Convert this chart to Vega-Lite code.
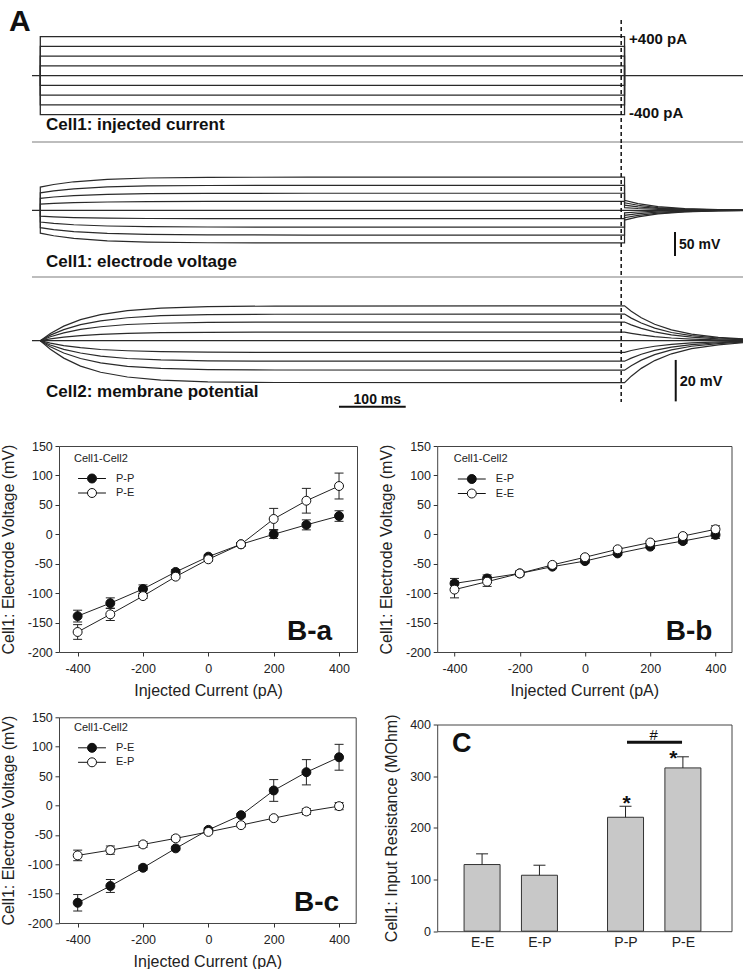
{
"$schema": "https://vega.github.io/schema/vega-lite/v6.json",
"padding": 0,
"background": "white",
"spacing": 0,
"resolve": {"scale": {"fill": "independent"}, "legend": {"fill": "independent"}},
"config": {
  "font": "Liberation Sans",
  "view": {"stroke": null},
  "axis": {"domain": false, "grid": false, "tickSize": 4, "tickColor": "#333", "tickWidth": 1, "labelFontSize": 12.5, "labelColor": "#222", "titleFontSize": 16, "titleFontWeight": "normal", "titleColor": "#222", "labelExpr": "'' + datum.value", "labelOverlap": false},
  "axisX": {"labelPadding": 6, "titlePadding": 7.5},
  "axisY": {"labelPadding": 2.7, "titlePadding": 10.5}
},
"datasets": {
  "cur": [
    {"I":400,"t":0,"v":0},{"I":400,"t":0,"v":400},{"I":400,"t":872,"v":400},{"I":400,"t":872,"v":0},
    {"I":300,"t":0,"v":0},{"I":300,"t":0,"v":300},{"I":300,"t":872,"v":300},{"I":300,"t":872,"v":0},
    {"I":200,"t":0,"v":0},{"I":200,"t":0,"v":200},{"I":200,"t":872,"v":200},{"I":200,"t":872,"v":0},
    {"I":100,"t":0,"v":0},{"I":100,"t":0,"v":100},{"I":100,"t":872,"v":100},{"I":100,"t":872,"v":0},
    {"I":-100,"t":0,"v":0},{"I":-100,"t":0,"v":-100},{"I":-100,"t":872,"v":-100},{"I":-100,"t":872,"v":0},
    {"I":-200,"t":0,"v":0},{"I":-200,"t":0,"v":-200},{"I":-200,"t":872,"v":-200},{"I":-200,"t":872,"v":0},
    {"I":-300,"t":0,"v":0},{"I":-300,"t":0,"v":-300},{"I":-300,"t":872,"v":-300},{"I":-300,"t":872,"v":0},
    {"I":-400,"t":0,"v":0},{"I":-400,"t":0,"v":-400},{"I":-400,"t":872,"v":-400},{"I":-400,"t":872,"v":0},
    {"I":0,"t":-12.4,"v":0},{"I":0,"t":1048.8,"v":0}
  ],
  "elec": [
    {"I":0,"t":-12.4,"v":0},{"I":0,"t":1048.8,"v":0},
    {"I":400,"t":0,"v":0},{"I":400,"t":0,"v":48.3},{"I":400,"t":20,"v":53.8},{"I":400,"t":50,"v":59.4},{"I":400,"t":100,"v":64.5},{"I":400,"t":160,"v":67.3},{"I":400,"t":250,"v":68.6},{"I":400,"t":400,"v":69},{"I":400,"t":872,"v":69},{"I":400,"t":872,"v":20.7},{"I":400,"t":892,"v":13.9},{"I":400,"t":922,"v":7.6},{"I":400,"t":962,"v":3.5},{"I":400,"t":1012,"v":1.2},{"I":400,"t":1048.8,"v":0.6},
    {"I":300,"t":0,"v":0},{"I":300,"t":0,"v":36.4},{"I":300,"t":20,"v":40.6},{"I":300,"t":50,"v":44.8},{"I":300,"t":100,"v":48.6},{"I":300,"t":160,"v":50.7},{"I":300,"t":250,"v":51.7},{"I":300,"t":400,"v":52},{"I":300,"t":872,"v":52},{"I":300,"t":872,"v":15.6},{"I":300,"t":892,"v":10.5},{"I":300,"t":922,"v":5.7},{"I":300,"t":962,"v":2.6},{"I":300,"t":1012,"v":0.9},{"I":300,"t":1048.8,"v":0.4},
    {"I":200,"t":0,"v":0},{"I":200,"t":0,"v":24.9},{"I":200,"t":20,"v":27.7},{"I":200,"t":50,"v":30.6},{"I":200,"t":100,"v":33.2},{"I":200,"t":160,"v":34.6},{"I":200,"t":250,"v":35.3},{"I":200,"t":400,"v":35.5},{"I":200,"t":872,"v":35.5},{"I":200,"t":872,"v":10.7},{"I":200,"t":892,"v":7.1},{"I":200,"t":922,"v":3.9},{"I":200,"t":962,"v":1.8},{"I":200,"t":1012,"v":0.6},{"I":200,"t":1048.8,"v":0.3},
    {"I":100,"t":0,"v":0},{"I":100,"t":0,"v":13.0},{"I":100,"t":20,"v":14.4},{"I":100,"t":50,"v":15.9},{"I":100,"t":100,"v":17.3},{"I":100,"t":160,"v":18.0},{"I":100,"t":250,"v":18.4},{"I":100,"t":400,"v":18.5},{"I":100,"t":872,"v":18.5},{"I":100,"t":872,"v":5.6},{"I":100,"t":892,"v":3.7},{"I":100,"t":922,"v":2.0},{"I":100,"t":962,"v":0.9},{"I":100,"t":1012,"v":0.3},{"I":100,"t":1048.8,"v":0.1},
    {"I":-100,"t":0,"v":0},{"I":-100,"t":0,"v":-12.3},{"I":-100,"t":20,"v":-13.7},{"I":-100,"t":50,"v":-15.1},{"I":-100,"t":100,"v":-16.4},{"I":-100,"t":160,"v":-17.1},{"I":-100,"t":250,"v":-17.4},{"I":-100,"t":400,"v":-17.5},{"I":-100,"t":872,"v":-17.5},{"I":-100,"t":872,"v":-5.3},{"I":-100,"t":892,"v":-3.5},{"I":-100,"t":922,"v":-1.9},{"I":-100,"t":962,"v":-0.9},{"I":-100,"t":1012,"v":-0.3},{"I":-100,"t":1048.8,"v":-0.1},
    {"I":-200,"t":0,"v":0},{"I":-200,"t":0,"v":-24.5},{"I":-200,"t":20,"v":-27.3},{"I":-200,"t":50,"v":-30.1},{"I":-200,"t":100,"v":-32.7},{"I":-200,"t":160,"v":-34.1},{"I":-200,"t":250,"v":-34.8},{"I":-200,"t":400,"v":-35},{"I":-200,"t":872,"v":-35},{"I":-200,"t":872,"v":-10.5},{"I":-200,"t":892,"v":-7.0},{"I":-200,"t":922,"v":-3.9},{"I":-200,"t":962,"v":-1.8},{"I":-200,"t":1012,"v":-0.6},{"I":-200,"t":1048.8,"v":-0.3},
    {"I":-300,"t":0,"v":0},{"I":-300,"t":0,"v":-36.1},{"I":-300,"t":20,"v":-40.2},{"I":-300,"t":50,"v":-44.3},{"I":-300,"t":100,"v":-48.2},{"I":-300,"t":160,"v":-50.2},{"I":-300,"t":250,"v":-51.2},{"I":-300,"t":400,"v":-51.5},{"I":-300,"t":872,"v":-51.5},{"I":-300,"t":872,"v":-15.5},{"I":-300,"t":892,"v":-10.4},{"I":-300,"t":922,"v":-5.7},{"I":-300,"t":962,"v":-2.6},{"I":-300,"t":1012,"v":-0.9},{"I":-300,"t":1048.8,"v":-0.4},
    {"I":-400,"t":0,"v":0},{"I":-400,"t":0,"v":-47.6},{"I":-400,"t":20,"v":-53.0},{"I":-400,"t":50,"v":-58.5},{"I":-400,"t":100,"v":-63.6},{"I":-400,"t":160,"v":-66.3},{"I":-400,"t":250,"v":-67.6},{"I":-400,"t":400,"v":-68},{"I":-400,"t":872,"v":-68},{"I":-400,"t":872,"v":-20.4},{"I":-400,"t":892,"v":-13.7},{"I":-400,"t":922,"v":-7.5},{"I":-400,"t":962,"v":-3.4},{"I":-400,"t":1012,"v":-1.2},{"I":-400,"t":1048.8,"v":-0.5}
  ],
  "mem": [
    {"I":0,"t":-12.4,"v":0},{"I":0,"t":1048.8,"v":0},
    {"I":400,"t":0,"v":0},{"I":400,"t":15,"v":3.5},{"I":400,"t":35,"v":7.1},{"I":400,"t":60,"v":10.3},{"I":400,"t":90,"v":12.7},{"I":400,"t":130,"v":14.7},{"I":400,"t":180,"v":15.9},{"I":400,"t":250,"v":16.6},{"I":400,"t":350,"v":16.9},{"I":400,"t":872,"v":17},{"I":400,"t":882,"v":14.4},{"I":400,"t":897,"v":11.2},{"I":400,"t":917,"v":8.0},{"I":400,"t":942,"v":5.3},{"I":400,"t":972,"v":3.2},{"I":400,"t":1012,"v":1.6},{"I":400,"t":1048.8,"v":0.9},
    {"I":300,"t":0,"v":0},{"I":300,"t":15,"v":2.7},{"I":300,"t":35,"v":5.4},{"I":300,"t":60,"v":7.8},{"I":300,"t":90,"v":9.7},{"I":300,"t":130,"v":11.2},{"I":300,"t":180,"v":12.2},{"I":300,"t":250,"v":12.7},{"I":300,"t":350,"v":12.9},{"I":300,"t":872,"v":13},{"I":300,"t":882,"v":11.0},{"I":300,"t":897,"v":8.6},{"I":300,"t":917,"v":6.1},{"I":300,"t":942,"v":4.0},{"I":300,"t":972,"v":2.5},{"I":300,"t":1012,"v":1.3},{"I":300,"t":1048.8,"v":0.7},
    {"I":200,"t":0,"v":0},{"I":200,"t":15,"v":1.9},{"I":200,"t":35,"v":3.8},{"I":200,"t":60,"v":5.5},{"I":200,"t":90,"v":6.8},{"I":200,"t":130,"v":7.9},{"I":200,"t":180,"v":8.5},{"I":200,"t":250,"v":8.9},{"I":200,"t":350,"v":9.1},{"I":200,"t":872,"v":9.1},{"I":200,"t":882,"v":7.7},{"I":200,"t":897,"v":6.0},{"I":200,"t":917,"v":4.3},{"I":200,"t":942,"v":2.8},{"I":200,"t":972,"v":1.7},{"I":200,"t":1012,"v":0.9},{"I":200,"t":1048.8,"v":0.5},
    {"I":100,"t":0,"v":0},{"I":100,"t":15,"v":0.9},{"I":100,"t":35,"v":1.7},{"I":100,"t":60,"v":2.5},{"I":100,"t":90,"v":3.1},{"I":100,"t":130,"v":3.6},{"I":100,"t":180,"v":3.9},{"I":100,"t":250,"v":4.1},{"I":100,"t":350,"v":4.2},{"I":100,"t":872,"v":4.2},{"I":100,"t":882,"v":3.6},{"I":100,"t":897,"v":2.8},{"I":100,"t":917,"v":2.0},{"I":100,"t":942,"v":1.3},{"I":100,"t":972,"v":0.8},{"I":100,"t":1012,"v":0.4},{"I":100,"t":1048.8,"v":0.2},
    {"I":-100,"t":0,"v":0},{"I":-100,"t":15,"v":-1.2},{"I":-100,"t":35,"v":-2.4},{"I":-100,"t":60,"v":-3.4},{"I":-100,"t":90,"v":-4.3},{"I":-100,"t":130,"v":-4.9},{"I":-100,"t":180,"v":-5.3},{"I":-100,"t":250,"v":-5.6},{"I":-100,"t":350,"v":-5.7},{"I":-100,"t":872,"v":-5.7},{"I":-100,"t":882,"v":-4.8},{"I":-100,"t":897,"v":-3.8},{"I":-100,"t":917,"v":-2.7},{"I":-100,"t":942,"v":-1.8},{"I":-100,"t":972,"v":-1.1},{"I":-100,"t":1012,"v":-0.6},{"I":-100,"t":1048.8,"v":-0.3},
    {"I":-200,"t":0,"v":0},{"I":-200,"t":15,"v":-2.1},{"I":-200,"t":35,"v":-4.2},{"I":-200,"t":60,"v":-6.0},{"I":-200,"t":90,"v":-7.5},{"I":-200,"t":130,"v":-8.7},{"I":-200,"t":180,"v":-9.4},{"I":-200,"t":250,"v":-9.8},{"I":-200,"t":350,"v":-10},{"I":-200,"t":872,"v":-10},{"I":-200,"t":882,"v":-8.5},{"I":-200,"t":897,"v":-6.6},{"I":-200,"t":917,"v":-4.7},{"I":-200,"t":942,"v":-3.1},{"I":-200,"t":972,"v":-1.9},{"I":-200,"t":1012,"v":-1.0},{"I":-200,"t":1048.8,"v":-0.5},
    {"I":-300,"t":0,"v":0},{"I":-300,"t":15,"v":-3.0},{"I":-300,"t":35,"v":-6.0},{"I":-300,"t":60,"v":-8.7},{"I":-300,"t":90,"v":-10.8},{"I":-300,"t":130,"v":-12.5},{"I":-300,"t":180,"v":-13.5},{"I":-300,"t":250,"v":-14.1},{"I":-300,"t":350,"v":-14.3},{"I":-300,"t":872,"v":-14.4},{"I":-300,"t":882,"v":-12.2},{"I":-300,"t":897,"v":-9.5},{"I":-300,"t":917,"v":-6.8},{"I":-300,"t":942,"v":-4.5},{"I":-300,"t":972,"v":-2.7},{"I":-300,"t":1012,"v":-1.4},{"I":-300,"t":1048.8,"v":-0.7},
    {"I":-400,"t":0,"v":0},{"I":-400,"t":15,"v":-4.2},{"I":-400,"t":35,"v":-8.5},{"I":-400,"t":60,"v":-12.4},{"I":-400,"t":90,"v":-15.4},{"I":-400,"t":130,"v":-17.7},{"I":-400,"t":180,"v":-19.2},{"I":-400,"t":250,"v":-20.1},{"I":-400,"t":350,"v":-20.4},{"I":-400,"t":872,"v":-20.5},{"I":-400,"t":882,"v":-17.3},{"I":-400,"t":897,"v":-13.5},{"I":-400,"t":917,"v":-9.7},{"I":-400,"t":942,"v":-6.4},{"I":-400,"t":972,"v":-3.9},{"I":-400,"t":1012,"v":-2.0},{"I":-400,"t":1048.8,"v":-1.0}
  ],
  "ba": [
    {"s":"P-P","I":-400,"v":-139,"lo":-149,"hi":-129},{"s":"P-P","I":-300,"v":-117,"lo":-126,"hi":-108},{"s":"P-P","I":-200,"v":-93,"lo":-100,"hi":-86},{"s":"P-P","I":-100,"v":-64,"lo":-68,"hi":-60},{"s":"P-P","I":0,"v":-38,"lo":-41,"hi":-35},{"s":"P-P","I":100,"v":-17,"lo":-20,"hi":-14},{"s":"P-P","I":200,"v":0,"lo":-7,"hi":7},{"s":"P-P","I":300,"v":16,"lo":7.5,"hi":24.5},{"s":"P-P","I":400,"v":31,"lo":22,"hi":40},
    {"s":"P-E","I":-400,"v":-166,"lo":-178.5,"hi":-153.5},{"s":"P-E","I":-300,"v":-136,"lo":-146.5,"hi":-125.5},{"s":"P-E","I":-200,"v":-105,"lo":-109,"hi":-101},{"s":"P-E","I":-100,"v":-72,"lo":-75,"hi":-69},{"s":"P-E","I":0,"v":-42.5,"lo":-45.5,"hi":-39.5},{"s":"P-E","I":100,"v":-17,"lo":-20,"hi":-14},{"s":"P-E","I":200,"v":26,"lo":8,"hi":44},{"s":"P-E","I":300,"v":57,"lo":36,"hi":78},{"s":"P-E","I":400,"v":82,"lo":60,"hi":104}
  ],
  "bb": [
    {"s":"E-P","I":-400,"v":-83.5,"lo":-92,"hi":-75},{"s":"E-P","I":-300,"v":-75,"lo":-81,"hi":-69},{"s":"E-P","I":-200,"v":-66.5,"lo":-70.5,"hi":-62.5},{"s":"E-P","I":-100,"v":-55,"lo":-58,"hi":-52},{"s":"E-P","I":0,"v":-45.5,"lo":-48.5,"hi":-42.5},{"s":"E-P","I":100,"v":-32.5,"lo":-35.5,"hi":-29.5},{"s":"E-P","I":200,"v":-21,"lo":-24,"hi":-18},{"s":"E-P","I":300,"v":-11.5,"lo":-15.5,"hi":-7.5},{"s":"E-P","I":400,"v":-1,"lo":-7,"hi":5},
    {"s":"E-E","I":-400,"v":-94,"lo":-108,"hi":-80},{"s":"E-E","I":-300,"v":-80.5,"lo":-88.5,"hi":-72.5},{"s":"E-E","I":-200,"v":-66.5,"lo":-70.5,"hi":-62.5},{"s":"E-E","I":-100,"v":-52,"lo":-55,"hi":-49},{"s":"E-E","I":0,"v":-39,"lo":-42,"hi":-36},{"s":"E-E","I":100,"v":-25.5,"lo":-28.5,"hi":-22.5},{"s":"E-E","I":200,"v":-14,"lo":-17,"hi":-11},{"s":"E-E","I":300,"v":-3,"lo":-6,"hi":0},{"s":"E-E","I":400,"v":8.5,"lo":2.5,"hi":14.5}
  ],
  "bc": [
    {"s":"P-E","I":-400,"v":-165.6,"lo":-179.6,"hi":-151.6},{"s":"P-E","I":-300,"v":-137,"lo":-148,"hi":-126},{"s":"P-E","I":-200,"v":-106,"lo":-110,"hi":-102},{"s":"P-E","I":-100,"v":-73,"lo":-76,"hi":-70},{"s":"P-E","I":0,"v":-41.5,"lo":-44.5,"hi":-38.5},{"s":"P-E","I":100,"v":-16.5,"lo":-19.5,"hi":-13.5},{"s":"P-E","I":200,"v":25.5,"lo":7,"hi":44},{"s":"P-E","I":300,"v":56.6,"lo":35,"hi":78},{"s":"P-E","I":400,"v":82,"lo":60,"hi":104},
    {"s":"E-P","I":-400,"v":-85,"lo":-94,"hi":-76},{"s":"E-P","I":-300,"v":-76,"lo":-83,"hi":-69},{"s":"E-P","I":-200,"v":-66.3,"lo":-71.3,"hi":-61.3},{"s":"E-P","I":-100,"v":-56,"lo":-60,"hi":-52},{"s":"E-P","I":0,"v":-45,"lo":-48,"hi":-42},{"s":"E-P","I":100,"v":-33.5,"lo":-36.5,"hi":-30.5},{"s":"E-P","I":200,"v":-21.6,"lo":-24.6,"hi":-18.6},{"s":"E-P","I":300,"v":-10.2,"lo":-15.2,"hi":-5.2},{"s":"E-P","I":400,"v":-1.2,"lo":-7.2,"hi":4.8}
  ],
  "c": [
    {"g":"E-E","pos":1,"r":129,"hi":149.7},
    {"g":"E-P","pos":2,"r":108.3,"hi":127.7},
    {"g":"P-P","pos":3.5,"r":220.5,"hi":241.8},
    {"g":"P-E","pos":4.5,"r":316,"hi":337.5}
  ]
},
"vconcat": [
  {
    "width": 684, "height": 143,
    "layer": [
      {"data": {"name": "cur"}, "mark": {"type": "line", "color": "#2a2a2a", "strokeWidth": 1.3},
       "encoding": {
         "x": {"field": "t", "type": "quantitative", "scale": {"domain": [27.91, 1048.8], "nice": false, "zero": false}, "axis": null},
         "y": {"field": "v", "type": "quantitative", "scale": {"domain": [-690.3, 776.4], "nice": false, "zero": false}, "axis": null},
         "detail": {"field": "I", "type": "nominal"},
         "order": {"value": null}}},
      {"data": {"values": [{}]}, "mark": {"type": "rule", "color": "#bdbdbd", "strokeWidth": 2},
       "encoding": {"x": {"datum": -12.4}, "x2": {"datum": 1048.8}, "y": {"datum": -680}}},
      {"data": {"values": [{}]}, "mark": {"type": "rule", "color": "#111", "strokeWidth": 1.5, "strokeDash": [4, 3]},
       "encoding": {"x": {"datum": 867}, "y": {"datum": 571}, "y2": {"datum": -690.3}}},
      {"data": {"values": [{"lab": "A"}]}, "mark": {"type": "text", "fontSize": 30, "fontWeight": "bold", "align": "left", "baseline": "alphabetic", "color": "#111"},
       "encoding": {"x": {"datum": -46.7}, "y": {"datum": 458}, "text": {"field": "lab"}}},
      {"data": {"values": [{"lab": "+400 pA"}]}, "mark": {"type": "text", "fontSize": 15, "fontWeight": "bold", "align": "left", "baseline": "middle", "color": "#111"},
       "encoding": {"x": {"datum": 878.7}, "y": {"datum": 376}, "text": {"field": "lab"}}},
      {"data": {"values": [{"lab": "-400 pA"}]}, "mark": {"type": "text", "fontSize": 15, "fontWeight": "bold", "align": "left", "baseline": "middle", "color": "#111"},
       "encoding": {"x": {"datum": 878.7}, "y": {"datum": -383}, "text": {"field": "lab"}}},
      {"data": {"values": [{"lab": "Cell1: injected current"}]}, "mark": {"type": "text", "fontSize": 17, "fontWeight": "bold", "align": "left", "baseline": "alphabetic", "color": "#111"},
       "encoding": {"x": {"datum": 8.5}, "y": {"datum": -557}, "text": {"field": "lab"}}}
    ]
  },
  {
    "width": 684, "height": 133,
    "layer": [
      {"data": {"name": "elec"}, "mark": {"type": "line", "color": "#2a2a2a", "strokeWidth": 1.2},
       "encoding": {
         "x": {"field": "t", "type": "quantitative", "scale": {"domain": [27.91, 1048.8], "nice": false, "zero": false}, "axis": null},
         "y": {"field": "v", "type": "quantitative", "scale": {"domain": [-141, 136], "nice": false, "zero": false}, "axis": null},
         "detail": {"field": "I", "type": "nominal"},
         "order": {"value": null}}},
      {"data": {"values": [{}]}, "mark": {"type": "rule", "color": "#bdbdbd", "strokeWidth": 2},
       "encoding": {"x": {"datum": -12.4}, "x2": {"datum": 1048.8}, "y": {"datum": -139}}},
      {"data": {"values": [{}]}, "mark": {"type": "rule", "color": "#111", "strokeWidth": 1.5, "strokeDash": [4, 3]},
       "encoding": {"x": {"datum": 867}, "y": {"datum": 136}, "y2": {"datum": -141}}},
      {"data": {"values": [{}]}, "mark": {"type": "rule", "color": "#111", "strokeWidth": 2},
       "encoding": {"x": {"datum": 947.3}, "y": {"datum": -45.2}, "y2": {"datum": -95.2}}},
      {"data": {"values": [{"lab": "50 mV"}]}, "mark": {"type": "text", "fontSize": 14, "fontWeight": "bold", "align": "left", "baseline": "middle", "color": "#111"},
       "encoding": {"x": {"datum": 953.3}, "y": {"datum": -72.9}, "text": {"field": "lab"}}},
      {"data": {"values": [{"lab": "Cell1: electrode voltage"}]}, "mark": {"type": "text", "fontSize": 17, "fontWeight": "bold", "align": "left", "baseline": "alphabetic", "color": "#111"},
       "encoding": {"x": {"datum": 8.5}, "y": {"datum": -118}, "text": {"field": "lab"}}}
    ]
  },
  {
    "width": 684, "height": 158.15,
    "layer": [
      {"data": {"name": "mem"}, "mark": {"type": "line", "color": "#2a2a2a", "strokeWidth": 1.2},
       "encoding": {
         "x": {"field": "t", "type": "quantitative", "scale": {"domain": [27.91, 1048.8], "nice": false, "zero": false}, "axis": null},
         "y": {"field": "v", "type": "quantitative", "scale": {"domain": [-47.54, 29.6], "nice": false, "zero": false}, "axis": null},
         "detail": {"field": "I", "type": "nominal"},
         "order": {"value": null}}},
      {"data": {"values": [{}]}, "mark": {"type": "rule", "color": "#111", "strokeWidth": 1.5, "strokeDash": [4, 3]},
       "encoding": {"x": {"datum": 867}, "y": {"datum": 29.6}, "y2": {"datum": -29.9}}},
      {"data": {"values": [{}]}, "mark": {"type": "rule", "color": "#111", "strokeWidth": 2},
       "encoding": {"x": {"datum": 948.4}, "y": {"datum": -9.4}, "y2": {"datum": -29.6}}},
      {"data": {"values": [{"lab": "20 mV"}]}, "mark": {"type": "text", "fontSize": 14.5, "fontWeight": "bold", "align": "left", "baseline": "middle", "color": "#111"},
       "encoding": {"x": {"datum": 954.3}, "y": {"datum": -20.1}, "text": {"field": "lab"}}},
      {"data": {"values": [{}]}, "mark": {"type": "rule", "color": "#111", "strokeWidth": 2},
       "encoding": {"x": {"datum": 445.8}, "x2": {"datum": 545.4}, "y": {"datum": -32.2}}},
      {"data": {"values": [{"lab": "100 ms"}]}, "mark": {"type": "text", "fontSize": 14, "fontWeight": "bold", "align": "center", "baseline": "alphabetic", "color": "#111"},
       "encoding": {"x": {"datum": 503}, "y": {"datum": -30.9}, "text": {"field": "lab"}}},
      {"data": {"values": [{"lab": "Cell2: membrane potential"}]}, "mark": {"type": "text", "fontSize": 17, "fontWeight": "bold", "align": "left", "baseline": "alphabetic", "color": "#111"},
       "encoding": {"x": {"datum": 8.5}, "y": {"datum": -27.5}, "text": {"field": "lab"}}}
    ]
  },
  {
    "resolve": {"scale": {"fill": "independent"}, "legend": {"fill": "independent"}},
    "hconcat": [
      {
        "resolve": {"scale": {"fill": "independent"}, "legend": {"fill": "independent"}},
        "vconcat": [
          {
            "width": 298, "height": 206,
            "view": {"stroke": "#444", "strokeWidth": 1},
            "data": {"name": "ba"},
            "layer": [
              {"mark": {"type": "line", "color": "#222", "strokeWidth": 1},
               "encoding": {
                 "x": {"field": "I", "type": "quantitative", "scale": {"domain": [-457, 455], "nice": false, "zero": false}, "axis": {"values": [-400, -200, 0, 200, 400], "labelOverlap": false, "title": "Injected Current (pA)"}},
                 "y": {"field": "v", "type": "quantitative", "scale": {"domain": [-200, 150], "nice": false, "zero": false}, "axis": {"values": [-200, -150, -100, -50, 0, 50, 100, 150], "tickCount": 8, "labelOverlap": false, "title": "Cell1: Electrode Voltage (mV)"}},
                 "detail": {"field": "s", "type": "nominal"}}},
              {"mark": {"type": "rule", "color": "#222", "strokeWidth": 1},
               "encoding": {
                 "x": {"field": "I", "type": "quantitative", "axis": {"values": [-400, -200, 0, 200, 400], "labelOverlap": false, "title": "Injected Current (pA)"}},
                 "y": {"field": "lo", "type": "quantitative", "axis": {"values": [-200, -150, -100, -50, 0, 50, 100, 150], "tickCount": 8, "labelOverlap": false, "title": "Cell1: Electrode Voltage (mV)"}}, "y2": {"field": "hi"}}},
              {"mark": {"type": "tick", "orient": "horizontal", "size": 9, "thickness": 1, "color": "#222", "opacity": 1},
               "encoding": {
                 "x": {"field": "I", "type": "quantitative", "axis": {"values": [-400, -200, 0, 200, 400], "labelOverlap": false, "title": "Injected Current (pA)"}},
                 "y": {"field": "lo", "type": "quantitative", "axis": {"values": [-200, -150, -100, -50, 0, 50, 100, 150], "tickCount": 8, "labelOverlap": false, "title": "Cell1: Electrode Voltage (mV)"}}}},
              {"mark": {"type": "tick", "orient": "horizontal", "size": 9, "thickness": 1, "color": "#222", "opacity": 1},
               "encoding": {
                 "x": {"field": "I", "type": "quantitative", "axis": {"values": [-400, -200, 0, 200, 400], "labelOverlap": false, "title": "Injected Current (pA)"}},
                 "y": {"field": "hi", "type": "quantitative", "axis": {"values": [-200, -150, -100, -50, 0, 50, 100, 150], "tickCount": 8, "labelOverlap": false, "title": "Cell1: Electrode Voltage (mV)"}}}},
              {"mark": {"type": "point", "shape": "circle", "size": 80, "filled": true, "stroke": "#111", "strokeWidth": 1, "opacity": 1},
               "encoding": {
                 "x": {"field": "I", "type": "quantitative", "axis": {"values": [-400, -200, 0, 200, 400], "labelOverlap": false, "title": "Injected Current (pA)"}},
                 "y": {"field": "v", "type": "quantitative", "axis": {"values": [-200, -150, -100, -50, 0, 50, 100, 150], "tickCount": 8, "labelOverlap": false, "title": "Cell1: Electrode Voltage (mV)"}},
                 "fill": {"field": "s", "type": "nominal", "scale": {"domain": ["P-P", "P-E"], "range": ["#111111", "#ffffff"]},
                   "legend": {"title": "Cell1-Cell2", "orient": "none", "legendX": 15, "legendY": 6.5, "padding": 0, "titleFontSize": 11, "titleFontWeight": "normal", "titleColor": "#222", "titlePadding": 9, "labelFontSize": 11, "labelColor": "#222", "labelExpr": "datum.label", "symbolType": "M-3.1,0L-1,0M1,0L3.1,0M1,0A1,1,0,1,1,-1,0A1,1,0,1,1,1,0Z", "symbolSize": 81, "symbolStrokeColor": "#111", "symbolStrokeWidth": 1, "symbolOffset": 12.5, "labelOffset": 18.5, "clipHeight": 12, "rowPadding": 2.5}}}},
              {"data": {"values": [{"lab": "B-a"}]}, "mark": {"type": "text", "fontSize": 28, "fontWeight": "bold", "align": "right", "baseline": "alphabetic", "color": "#111"},
               "encoding": {"x": {"datum": 378.6}, "y": {"datum": -179.8}, "text": {"field": "lab"}}}
            ]
          },
          {
            "width": 296.7, "height": 205.7,
            "view": {"stroke": "#444", "strokeWidth": 1},
            "data": {"name": "bc"},
            "layer": [
              {"mark": {"type": "line", "color": "#222", "strokeWidth": 1},
               "encoding": {
                 "x": {"field": "I", "type": "quantitative", "scale": {"domain": [-457.2, 450.9], "nice": false, "zero": false}, "axis": {"values": [-400, -200, 0, 200, 400], "labelOverlap": false, "title": "Injected Current (pA)"}},
                 "y": {"field": "v", "type": "quantitative", "scale": {"domain": [-200, 150], "nice": false, "zero": false}, "axis": {"values": [-200, -150, -100, -50, 0, 50, 100, 150], "tickCount": 8, "labelOverlap": false, "title": "Cell1: Electrode Voltage (mV)"}},
                 "detail": {"field": "s", "type": "nominal"}}},
              {"mark": {"type": "rule", "color": "#222", "strokeWidth": 1},
               "encoding": {
                 "x": {"field": "I", "type": "quantitative", "axis": {"values": [-400, -200, 0, 200, 400], "labelOverlap": false, "title": "Injected Current (pA)"}},
                 "y": {"field": "lo", "type": "quantitative", "axis": {"values": [-200, -150, -100, -50, 0, 50, 100, 150], "tickCount": 8, "labelOverlap": false, "title": "Cell1: Electrode Voltage (mV)"}}, "y2": {"field": "hi"}}},
              {"mark": {"type": "tick", "orient": "horizontal", "size": 9, "thickness": 1, "color": "#222", "opacity": 1},
               "encoding": {
                 "x": {"field": "I", "type": "quantitative", "axis": {"values": [-400, -200, 0, 200, 400], "labelOverlap": false, "title": "Injected Current (pA)"}},
                 "y": {"field": "lo", "type": "quantitative", "axis": {"values": [-200, -150, -100, -50, 0, 50, 100, 150], "tickCount": 8, "labelOverlap": false, "title": "Cell1: Electrode Voltage (mV)"}}}},
              {"mark": {"type": "tick", "orient": "horizontal", "size": 9, "thickness": 1, "color": "#222", "opacity": 1},
               "encoding": {
                 "x": {"field": "I", "type": "quantitative", "axis": {"values": [-400, -200, 0, 200, 400], "labelOverlap": false, "title": "Injected Current (pA)"}},
                 "y": {"field": "hi", "type": "quantitative", "axis": {"values": [-200, -150, -100, -50, 0, 50, 100, 150], "tickCount": 8, "labelOverlap": false, "title": "Cell1: Electrode Voltage (mV)"}}}},
              {"mark": {"type": "point", "shape": "circle", "size": 80, "filled": true, "stroke": "#111", "strokeWidth": 1, "opacity": 1},
               "encoding": {
                 "x": {"field": "I", "type": "quantitative", "axis": {"values": [-400, -200, 0, 200, 400], "labelOverlap": false, "title": "Injected Current (pA)"}},
                 "y": {"field": "v", "type": "quantitative", "axis": {"values": [-200, -150, -100, -50, 0, 50, 100, 150], "tickCount": 8, "labelOverlap": false, "title": "Cell1: Electrode Voltage (mV)"}},
                 "fill": {"field": "s", "type": "nominal", "scale": {"domain": ["P-E", "E-P"], "range": ["#111111", "#ffffff"]},
                   "legend": {"title": "Cell1-Cell2", "orient": "none", "legendX": 15, "legendY": 4.5, "padding": 0, "titleFontSize": 11, "titleFontWeight": "normal", "titleColor": "#222", "titlePadding": 9, "labelFontSize": 11, "labelColor": "#222", "labelExpr": "datum.label", "symbolType": "M-3.1,0L-1,0M1,0L3.1,0M1,0A1,1,0,1,1,-1,0A1,1,0,1,1,1,0Z", "symbolSize": 81, "symbolStrokeColor": "#111", "symbolStrokeWidth": 1, "symbolOffset": 12.5, "labelOffset": 18.5, "clipHeight": 12, "rowPadding": 2.5}}}},
              {"data": {"values": [{"lab": "B-c"}]}, "mark": {"type": "text", "fontSize": 28, "fontWeight": "bold", "align": "right", "baseline": "alphabetic", "color": "#111"},
               "encoding": {"x": {"datum": 400}, "y": {"datum": -179.8}, "text": {"field": "lab"}}}
            ]
          }
        ],
        "spacing": 11.3
      },
      {
        "resolve": {"scale": {"fill": "independent"}, "legend": {"fill": "independent"}},
        "vconcat": [
          {
            "width": 294.3, "height": 206,
            "view": {"stroke": "#444", "strokeWidth": 1},
            "data": {"name": "bb"},
            "layer": [
              {"mark": {"type": "line", "color": "#222", "strokeWidth": 1},
               "encoding": {
                 "x": {"field": "I", "type": "quantitative", "scale": {"domain": [-453, 449], "nice": false, "zero": false}, "axis": {"values": [-400, -200, 0, 200, 400], "labelOverlap": false, "title": "Injected Current (pA)"}},
                 "y": {"field": "v", "type": "quantitative", "scale": {"domain": [-200, 150], "nice": false, "zero": false}, "axis": {"values": [-200, -150, -100, -50, 0, 50, 100, 150], "tickCount": 8, "labelOverlap": false, "title": "Cell1: Electrode Voltage (mV)"}},
                 "detail": {"field": "s", "type": "nominal"}}},
              {"mark": {"type": "rule", "color": "#222", "strokeWidth": 1},
               "encoding": {
                 "x": {"field": "I", "type": "quantitative", "axis": {"values": [-400, -200, 0, 200, 400], "labelOverlap": false, "title": "Injected Current (pA)"}},
                 "y": {"field": "lo", "type": "quantitative", "axis": {"values": [-200, -150, -100, -50, 0, 50, 100, 150], "tickCount": 8, "labelOverlap": false, "title": "Cell1: Electrode Voltage (mV)"}}, "y2": {"field": "hi"}}},
              {"mark": {"type": "tick", "orient": "horizontal", "size": 9, "thickness": 1, "color": "#222", "opacity": 1},
               "encoding": {
                 "x": {"field": "I", "type": "quantitative", "axis": {"values": [-400, -200, 0, 200, 400], "labelOverlap": false, "title": "Injected Current (pA)"}},
                 "y": {"field": "lo", "type": "quantitative", "axis": {"values": [-200, -150, -100, -50, 0, 50, 100, 150], "tickCount": 8, "labelOverlap": false, "title": "Cell1: Electrode Voltage (mV)"}}}},
              {"mark": {"type": "tick", "orient": "horizontal", "size": 9, "thickness": 1, "color": "#222", "opacity": 1},
               "encoding": {
                 "x": {"field": "I", "type": "quantitative", "axis": {"values": [-400, -200, 0, 200, 400], "labelOverlap": false, "title": "Injected Current (pA)"}},
                 "y": {"field": "hi", "type": "quantitative", "axis": {"values": [-200, -150, -100, -50, 0, 50, 100, 150], "tickCount": 8, "labelOverlap": false, "title": "Cell1: Electrode Voltage (mV)"}}}},
              {"mark": {"type": "point", "shape": "circle", "size": 80, "filled": true, "stroke": "#111", "strokeWidth": 1, "opacity": 1},
               "encoding": {
                 "x": {"field": "I", "type": "quantitative", "axis": {"values": [-400, -200, 0, 200, 400], "labelOverlap": false, "title": "Injected Current (pA)"}},
                 "y": {"field": "v", "type": "quantitative", "axis": {"values": [-200, -150, -100, -50, 0, 50, 100, 150], "tickCount": 8, "labelOverlap": false, "title": "Cell1: Electrode Voltage (mV)"}},
                 "fill": {"field": "s", "type": "nominal", "scale": {"domain": ["E-P", "E-E"], "range": ["#111111", "#ffffff"]},
                   "legend": {"title": "Cell1-Cell2", "orient": "none", "legendX": 16.6, "legendY": 7, "padding": 0, "titleFontSize": 11, "titleFontWeight": "normal", "titleColor": "#222", "titlePadding": 9, "labelFontSize": 11, "labelColor": "#222", "labelExpr": "datum.label", "symbolType": "M-3.1,0L-1,0M1,0L3.1,0M1,0A1,1,0,1,1,-1,0A1,1,0,1,1,1,0Z", "symbolSize": 81, "symbolStrokeColor": "#111", "symbolStrokeWidth": 1, "symbolOffset": 12.5, "labelOffset": 18.5, "clipHeight": 12, "rowPadding": 2.5}}}},
              {"data": {"values": [{"lab": "B-b"}]}, "mark": {"type": "text", "fontSize": 28, "fontWeight": "bold", "align": "right", "baseline": "alphabetic", "color": "#111"},
               "encoding": {"x": {"datum": 390.4}, "y": {"datum": -180.2}, "text": {"field": "lab"}}}
            ]
          },
          {
            "width": 294.3, "height": 206.7,
            "view": {"stroke": "#444", "strokeWidth": 1},
            "data": {"name": "c"},
            "layer": [
              {"mark": {"type": "bar", "size": 36, "fill": "#c8c8c8", "stroke": "#333", "strokeWidth": 1},
               "encoding": {
                 "x": {"field": "pos", "type": "quantitative", "scale": {"domain": [0.305, 5.26], "nice": false, "zero": false},
                   "axis": {"values": [1, 2, 3.5, 4.5], "labelExpr": "datum.value == 1 ? 'E-E' : datum.value == 2 ? 'E-P' : datum.value == 3.5 ? 'P-P' : 'P-E'", "title": null, "ticks": false, "labelPadding": 4.6, "labelFontSize": 14}},
                 "y": {"field": "r", "type": "quantitative", "scale": {"domain": [0, 400], "nice": false}, "axis": {"values": [0, 100, 200, 300, 400], "title": "Cell1: Input Resistance (MOhm)"}}}},
              {"mark": {"type": "rule", "color": "#222", "strokeWidth": 1},
               "encoding": {
                 "x": {"field": "pos", "type": "quantitative", "axis": {"values": [1, 2, 3.5, 4.5], "labelExpr": "datum.value == 1 ? 'E-E' : datum.value == 2 ? 'E-P' : datum.value == 3.5 ? 'P-P' : 'P-E'", "title": null, "ticks": false, "labelPadding": 4.6, "labelFontSize": 14}},
                 "y": {"field": "r", "type": "quantitative", "axis": {"values": [0, 100, 200, 300, 400], "title": "Cell1: Input Resistance (MOhm)"}}, "y2": {"field": "hi"}}},
              {"mark": {"type": "tick", "orient": "horizontal", "size": 12, "thickness": 1, "color": "#222", "opacity": 1},
               "encoding": {
                 "x": {"field": "pos", "type": "quantitative", "axis": {"values": [1, 2, 3.5, 4.5], "labelExpr": "datum.value == 1 ? 'E-E' : datum.value == 2 ? 'E-P' : datum.value == 3.5 ? 'P-P' : 'P-E'", "title": null, "ticks": false, "labelPadding": 4.6, "labelFontSize": 14}},
                 "y": {"field": "hi", "type": "quantitative", "axis": {"values": [0, 100, 200, 300, 400], "title": "Cell1: Input Resistance (MOhm)"}}}},
              {"data": {"values": [{"lab": "C"}]}, "mark": {"type": "text", "fontSize": 27, "fontWeight": "bold", "align": "left", "baseline": "alphabetic", "color": "#111"},
               "encoding": {"x": {"datum": 0.475}, "y": {"datum": 347}, "text": {"field": "lab"}}},
              {"data": {"values": [{"lab": "#"}]}, "mark": {"type": "text", "fontSize": 15, "align": "center", "baseline": "middle", "color": "#111"},
               "encoding": {"x": {"datum": 3.99}, "y": {"datum": 380.6}, "text": {"field": "lab"}}},
              {"data": {"values": [{}]}, "mark": {"type": "rule", "color": "#111", "strokeWidth": 3},
               "encoding": {"x": {"datum": 3.526}, "x2": {"datum": 4.485}, "y": {"datum": 365.7}}},
              {"data": {"values": [{"lab": "*"}]}, "mark": {"type": "text", "fontSize": 21, "fontWeight": "bold", "align": "center", "baseline": "alphabetic", "color": "#111"},
               "encoding": {"x": {"datum": 3.52}, "y": {"datum": 235.5}, "text": {"field": "lab"}}},
              {"data": {"values": [{"lab": "*"}]}, "mark": {"type": "text", "fontSize": 21, "fontWeight": "bold", "align": "center", "baseline": "alphabetic", "color": "#111"},
               "encoding": {"x": {"datum": 4.334}, "y": {"datum": 321.6}, "text": {"field": "lab"}}}
            ]
          }
        ],
        "spacing": 14.5
      }
    ],
    "spacing": 20.2
  }
]
}
